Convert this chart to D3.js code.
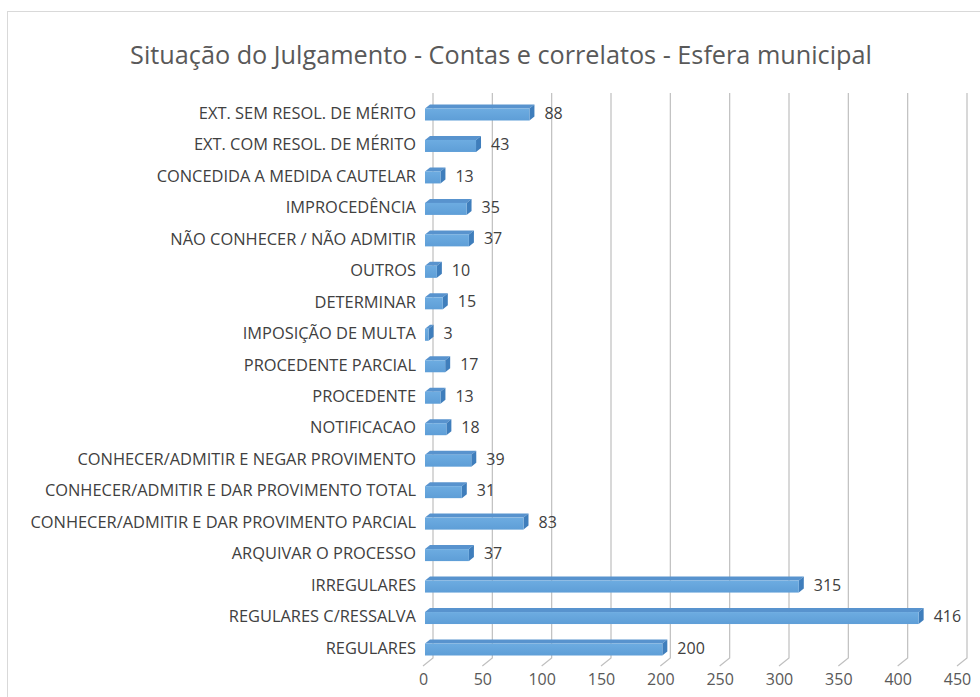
<!DOCTYPE html>
<html>
<head>
<meta charset="utf-8">
<script src="https://cdn.jsdelivr.net/npm/d3@7"></script>
<style>
  html, body { margin: 0; padding: 0; background: #fff; }
  svg { display: block; }
  text { font-family: "Open Sans", "Noto Sans", sans-serif; fill: #404040; }
</style>
</head>
<body>
<svg id="chart" width="980" height="697"></svg>
<script>
// Categories, top to bottom
const categories = [
  "EXT. SEM RESOL. DE MÉRITO",
  "EXT. COM RESOL. DE MÉRITO",
  "CONCEDIDA A MEDIDA CAUTELAR",
  "IMPROCEDÊNCIA",
  "NÃO CONHECER / NÃO ADMITIR",
  "OUTROS",
  "DETERMINAR",
  "IMPOSIÇÃO DE MULTA",
  "PROCEDENTE PARCIAL",
  "PROCEDENTE",
  "NOTIFICACAO",
  "CONHECER/ADMITIR E NEGAR PROVIMENTO",
  "CONHECER/ADMITIR E DAR PROVIMENTO TOTAL",
  "CONHECER/ADMITIR E DAR PROVIMENTO PARCIAL",
  "ARQUIVAR O PROCESSO",
  "IRREGULARES",
  "REGULARES C/RESSALVA",
  "REGULARES"
];
const values = [88, 43, 13, 35, 37, 10, 15, 3, 17, 13, 18, 39, 31, 83, 37, 315, 416, 200];
const tickValues = [0, 50, 100, 150, 200, 250, 300, 350, 400, 450];
const title = "Situação do Julgamento - Contas e correlatos - Esfera municipal";

const svg = d3.select("#chart");

// chart area frame
svg.append("rect")
  .attr("x", 7.5).attr("y", 11.5)
  .attr("width", 1000).attr("height", 720)
  .attr("fill", "#fff").attr("stroke", "#d9d9d9").attr("stroke-width", 1);

// 3D depth of the plot (back wall offset) and of the bars
const wallDx = 10, wallDy = -8;
const barDx = 5, barDy = -4;

const x = d3.scaleLinear().domain([0, 450]).range([423, 957]);
const y = d3.scalePoint().domain(categories).range([113, 648]);

const floorY = 666;
const wallTop = 93;

// gradient for the bar front face
const defs = svg.append("defs");
const grad = defs.append("linearGradient").attr("id", "front").attr("x1", 0).attr("y1", 0).attr("x2", 0).attr("y2", 1);
grad.append("stop").attr("offset", "0%").attr("stop-color", "#6DACE1");
grad.append("stop").attr("offset", "100%").attr("stop-color", "#5E9ED7");

// gridlines on the back wall plus floor diagonals
const grid = svg.append("g").attr("class", "grid");
tickValues.forEach(v => {
  const xb = x(v) + wallDx;
  grid.append("path")
    .attr("d", `M${xb},${wallTop} L${xb},${floorY + wallDy} L${x(v)},${floorY}`)
    .attr("fill", "none").attr("stroke", "#bfbfbf").attr("stroke-width", 1.2);
});

// tick labels via axis
const axis = d3.axisBottom(x).tickValues(tickValues).tickSize(0).tickPadding(0);
const ag = svg.append("g").attr("transform", `translate(0,${floorY + 6})`).call(axis);
ag.select(".domain").remove();
ag.selectAll("text")
  .attr("fill", "#595959").style("fill", "#595959").style("font-size", "16px")
  .style("font-family", "'Open Sans', sans-serif")
  .attr("dy", "0.71em").attr("y", 2);

// bars
const bh = 12;
const bars = svg.append("g").attr("class", "bars");
categories.forEach((c, i) => {
  const v = values[i];
  const x0 = x(0) + 2, x1 = x(v) + 2;
  const yt = y(c) - 4.5, yb = yt + bh;
  const g = bars.append("g");
  // top face
  g.append("path")
    .attr("d", `M${x0},${yt} L${x0 + barDx},${yt + barDy} L${x1 + barDx},${yt + barDy} L${x1},${yt} Z`)
    .attr("fill", "#5893CE");
  // side face
  g.append("path")
    .attr("d", `M${x1},${yt} L${x1 + barDx},${yt + barDy} L${x1 + barDx},${yb + barDy} L${x1},${yb} Z`)
    .attr("fill", "#3F7EBC");
  // front face
  g.append("rect")
    .attr("x", x0).attr("y", yt)
    .attr("width", Math.max(0, x1 - x0)).attr("height", bh)
    .attr("fill", "url(#front)");
  // value label
  g.append("text")
    .attr("x", x1 + barDx + 10).attr("y", y(c))
    .attr("dy", "0.35em")
    .style("font-size", "16px")
    .text(v);
});

// category labels
const labels = svg.append("g").attr("class", "cats");
const labelSel = labels.selectAll("text").data(categories).join("text")
  .attr("x", 416).attr("y", d => y(d))
  .attr("dy", "0.35em").attr("text-anchor", "end")
  .style("font-size", "14px")
  .text(d => d);

// title
const t = svg.append("text")
  .attr("x", 501).attr("y", 55)
  .attr("dy", "0.35em").attr("text-anchor", "middle")
  .style("font-size", "24px").style("fill", "#595959")
  .text(title);

// size the texts to their column widths once fonts are ready
function fit() {
  labelSel.style("font-size", "14px");
  let maxW = 0;
  labelSel.each(function () { maxW = Math.max(maxW, this.getComputedTextLength()); });
  labelSel.style("font-size", (14 * 386 / maxW) + "px");
  t.style("font-size", "24px");
  const tw = t.node().getComputedTextLength();
  t.style("font-size", (24 * 742 / tw) + "px");
}
fit();
if (document.fonts && document.fonts.ready) document.fonts.ready.then(fit);
</script>
</body>
</html>
